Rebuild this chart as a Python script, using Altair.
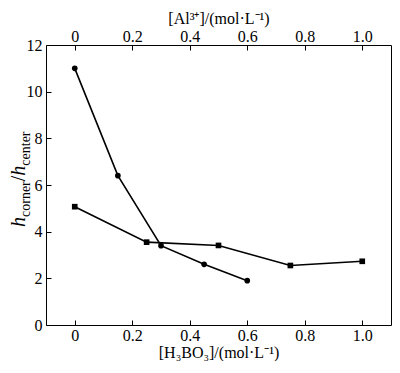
import altair as alt
import pandas as pd

# Data
boric_x = [0.0, 0.15, 0.30, 0.45, 0.60]          # [H3BO3] (bottom axis)
circle_ratio = [11.0, 6.4, 3.4, 2.6, 1.9]
al_x = [0.0, 0.25, 0.50, 0.75, 1.0]              # [Al3+] (top axis)
square_ratio = [5.07, 3.55, 3.41, 2.55, 2.73]
x_ticks = [0, 0.2, 0.4, 0.6, 0.8, 1.0]
y_ticks = [0, 2, 4, 6, 8, 10, 12]

FONT = "'Liberation Serif', 'Times New Roman', serif"

df_c = pd.DataFrame({"x": boric_x, "y": circle_ratio})
df_s = pd.DataFrame({"x": al_x, "y": square_ratio})

label_expr = "datum.value == 0 ? '0' : format(datum.value, '.1f')"
xscale = alt.Scale(domain=[-0.1, 1.1], nice=False, zero=False)
yscale = alt.Scale(domain=[0, 12], nice=False, zero=True)

yaxis = alt.Axis(values=y_ticks, format="d", domain=False, offset=-5, tickSize=5,
                 labelPadding=4, grid=False, title=None, labelFont=FONT)

bottom_axis = alt.Axis(values=x_ticks, labelExpr=label_expr, domain=False, offset=-5,
                       tickSize=5, labelPadding=2, grid=False, labelFont=FONT,
                       title="[H\u2083BO\u2083]/(mol\u00b7L\u207b\u00b9)", titlePadding=1)
top_axis = alt.Axis(values=x_ticks, labelExpr=label_expr, domain=False, offset=-5,
                    tickSize=5, labelPadding=1, grid=False, orient="top", labelFont=FONT,
                    title="[Al\u00b3\u207a]/(mol\u00b7L\u207b\u00b9)", titlePadding=2)

base_c = alt.Chart(df_c).encode(
    x=alt.X("x:Q", scale=xscale, axis=bottom_axis),
    y=alt.Y("y:Q", scale=yscale, axis=yaxis),
)
layer_c = alt.layer(
    base_c.mark_line(color="black", strokeWidth=1.6),
    base_c.mark_point(shape="circle", filled=True, color="black", size=32, opacity=1),
)

base_s = alt.Chart(df_s).encode(
    x=alt.X("x:Q", scale=xscale, axis=top_axis),
    y=alt.Y("y:Q", scale=yscale, axis=yaxis),
)
layer_s = alt.layer(
    base_s.mark_line(color="black", strokeWidth=1.6),
    base_s.mark_point(shape="square", filled=True, color="black", size=32, opacity=1),
)

# y-axis title  h_corner / h_center  built from pieces (rotated)
pieces = [
    ("h", 20, "italic", 0.5, 0),
    ("corner", 14, "normal", 2.554, 5),
    ("/", 20, "normal", 0.278, 0),
    ("h", 20, "italic", 0.5, 0),
    ("center", 14, "normal", 2.443, 5),
]
title_layers = []
ypos = 182.0
for txt, fs, style, em, shift in pieces:
    title_layers.append(
        alt.Chart(pd.DataFrame({"t": [txt]})).mark_text(
            angle=270, align="left", baseline="alphabetic", font=FONT,
            fontSize=fs, fontStyle=style, color="black",
        ).encode(text="t:N", x=alt.value(-21 + shift), y=alt.value(ypos))
    )
    ypos -= em * fs

chart = alt.layer(layer_c, layer_s, *title_layers).resolve_scale(x="independent").properties(
    width=345,
    height=280,
    padding={"left": 38, "top": 37, "right": 1, "bottom": 36},
    autosize=alt.AutoSizeParams(type="none"),
).configure(background="white", font=FONT).configure_view(
    stroke="black", strokeWidth=1
).configure_axis(
    labelFont=FONT, labelFontSize=16, labelColor="black", tickColor="black",
    titleFont=FONT, titleFontSize=16, titleFontWeight="normal", titleColor="black",
)

chart.save("out.html", embed_options={"renderer": "svg", "actions": False})
